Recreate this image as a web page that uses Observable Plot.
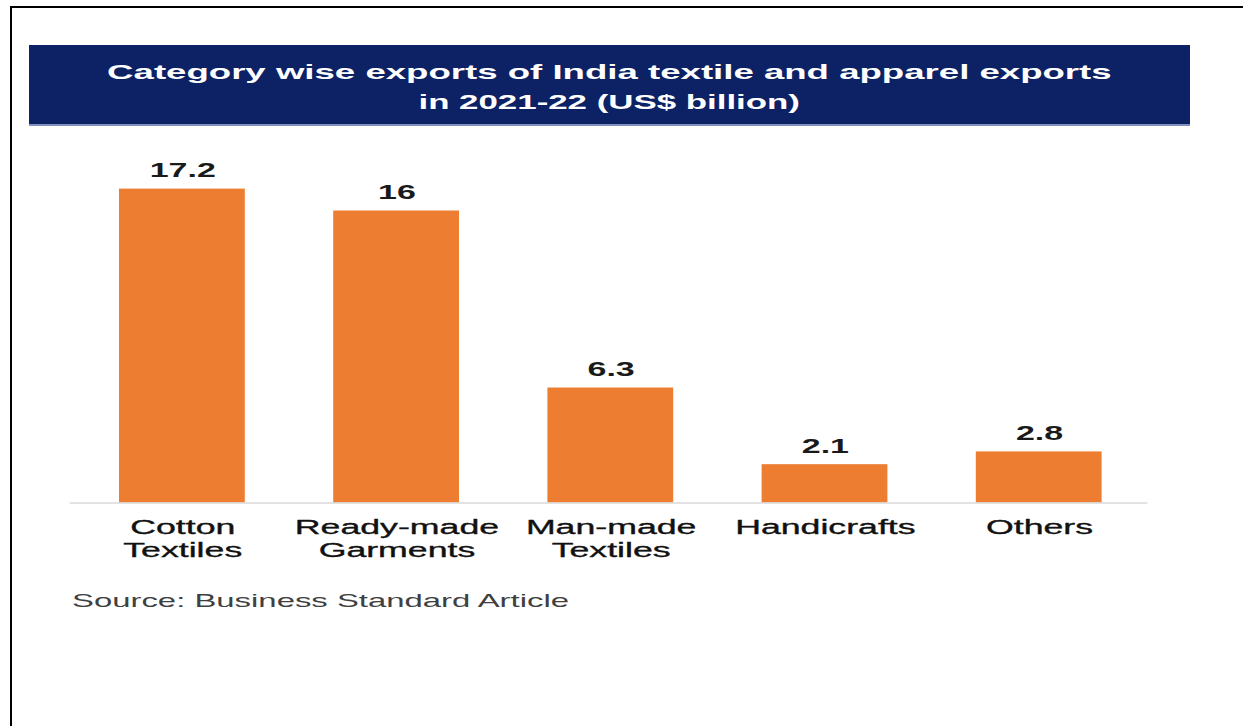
<!DOCTYPE html>
<html>
<head>
<meta charset="utf-8">
<script src="https://cdn.jsdelivr.net/npm/d3@7"></script>
<script src="https://cdn.jsdelivr.net/npm/@observablehq/plot@0.6"></script>
<style>
  html, body { margin: 0; padding: 0; background: #fff; }
  body { width: 1243px; height: 726px; position: relative; overflow: hidden; font-family: "Liberation Sans", Arial, sans-serif; }
  #frame { position: absolute; left: 10px; top: 6px; width: 1240px; height: 730px; border-top: 2px solid #000; border-left: 2px solid #000; box-sizing: border-box; }
  #banner { position: absolute; left: 29px; top: 45px; width: 1161px; height: 81px; background: #0c2265; border-bottom: 2px solid #8090c0; box-sizing: border-box; }
  #title { position: absolute; left: 0; top: 12px; width: 100%; text-align: center; color: #fff; font-weight: bold; font-size: 20.5px; line-height: 30px; }
  #title span { display: inline-block; transform-origin: 50% 50%; white-space: nowrap; }
  #t1 { transform: scaleX(1.785); }
  #t2 { transform: scaleX(1.70); }
  #chart { position: absolute; left: 0; top: 140px; }
  #chart svg { transform: scaleX(1.7); transform-origin: 0 0; overflow: visible; }
  #source { position: absolute; left: 72px; top: 591px; font-size: 19px; line-height: 20px; color: #404040; white-space: nowrap; transform: scaleX(1.73); transform-origin: 0 0; }
</style>
</head>
<body>
<div id="frame"></div>
<div id="banner"><div id="title"><span id="t1">Category wise exports of India textile and apparel exports</span><br><span id="t2">in 2021-22 (US$ billion)</span></div></div>
<div id="chart"></div>
<div id="source">Source: Business Standard Article</div>
<script>
const categories = ["Cotton\nTextiles", "Ready-made\nGarments", "Man-made\nTextiles", "Handicrafts", "Others"];
const values = [17.2, 16, 6.3, 2.1, 2.8];
const valueLabels = ["17.2", "16", "6.3", "2.1", "2.8"];

const data = categories.map((c, i) => ({category: c, value: values[i], label: valueLabels[i]}));

const K = 1.7; // horizontal stretch of the reference
const W = 731;

const chart = Plot.plot({
  width: W,
  height: 440,
  marginLeft: 41,
  marginRight: 56,
  marginTop: 0,
  marginBottom: 0,
  style: {fontFamily: "'Liberation Sans', Arial, sans-serif", background: "transparent", overflow: "visible"},
  x: {domain: categories, range: [28 / K, 1192 / K], padding: 0.414, axis: null},
  y: {domain: [0, 17.2], range: [362.5, 362.5 - 17.2 * 18.25], axis: null},
  marks: [
    Plot.barY(data, {x: "category", y: "value", fill: "#ed7d31"}),
    Plot.ruleY([0], {stroke: "#d9d9d9", strokeWidth: 1.5}),
    Plot.text(data, {x: "category", y: "value", text: "label", lineAnchor: "bottom", dy: -12, fontSize: 20, fontWeight: "bold", fill: "#1a1a1a"}),
    Plot.text(data, {x: "category", y: () => 0, text: "category", lineAnchor: "top", dy: 14.5, fontSize: 21, lineHeight: 1.1, fill: "#111", stroke: "#111", strokeWidth: 0.35})
  ]
});
document.getElementById("chart").appendChild(chart);
</script>
</body>
</html>
